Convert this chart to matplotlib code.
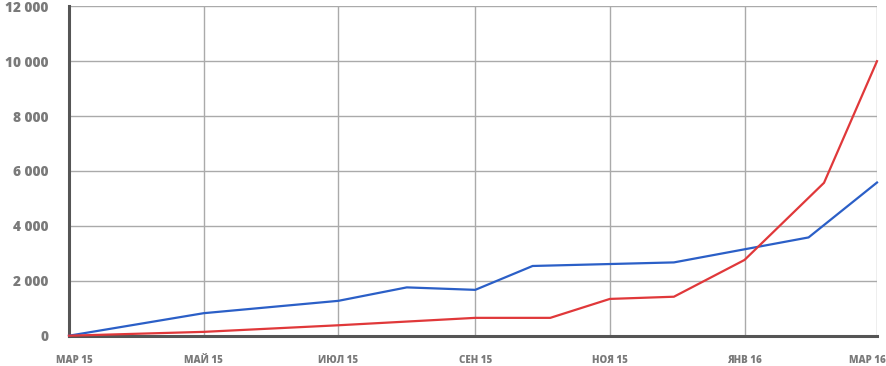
import pandas as pd
import matplotlib
matplotlib.use("Agg")
import matplotlib.pyplot as plt
import matplotlib.transforms as mtransforms

# blue series
blue_dates = ["2015-03-01", "2015-05-01", "2015-07-01", "2015-08-01", "2015-09-01",
              "2015-09-27", "2015-11-30", "2016-01-30", "2016-03-01"]
blue_values = [0, 820, 1270, 1760, 1670, 2540, 2670, 3580, 5580]

# red series
red_dates = ["2015-03-01", "2015-05-01", "2015-07-01", "2015-09-01", "2015-10-05",
             "2015-11-01", "2015-11-30", "2016-01-01", "2016-02-06", "2016-03-01"]
red_values = [0, 140, 380, 650, 650, 1340, 1420, 2760, 5570, 10000]

tick_dates = ["2015-03-01", "2015-05-01", "2015-07-01", "2015-09-01",
              "2015-11-01", "2016-01-01", "2016-03-01"]
tick_labels = ["МАР 15", "МАЙ 15", "ИЮЛ 15", "СЕН 15", "НОЯ 15", "ЯНВ 16", "МАР 16"]
y_ticks = [0, 2000, 4000, 6000, 8000, 10000, 12000]
y_labels = ["0", "2 000", "4 000", "6 000", "8 000", "10 000", "12 000"]

plt.rcParams['font.family'] = ['Open Sans', 'DejaVu Sans']

fig = plt.figure(figsize=(8.87, 3.66), dpi=100)
ax = fig.add_axes([69 / 887, 1 - 335.7 / 366, 808 / 887, (335.7 - 6.3) / 366])

ax.plot(pd.to_datetime(blue_dates), blue_values, color='#2b5fc7', lw=1.6, clip_on=False, zorder=3)
ax.plot(pd.to_datetime(red_dates), red_values, color='#e0383a', lw=1.6, clip_on=False, zorder=3)

ax.set_xlim(pd.Timestamp("2015-03-01"), pd.Timestamp("2016-03-01"))
ax.set_ylim(0, 12000)
ax.set_xticks(pd.to_datetime(tick_dates))
ax.set_xticklabels(tick_labels)
ax.set_yticks(y_ticks)
ax.set_yticklabels(y_labels)

ax.grid(True, color='#aaaaaa', lw=1.0)
ax.set_axisbelow(True)
for side in ['top', 'right']:
    ax.spines[side].set_visible(False)
ax.spines['left'].set_color('#555555')
ax.spines['left'].set_linewidth(2.2)
ax.spines['bottom'].set_color('#555555')
ax.spines['bottom'].set_linewidth(2.2)

ax.tick_params(axis='y', length=0, pad=15, labelsize=9.8, labelcolor='#7a7a7a')
ax.tick_params(axis='x', length=0, pad=14, labelsize=7.0, labelcolor='#7a7a7a')
for lab in ax.get_yticklabels() + ax.get_xticklabels():
    lab.set_fontweight('heavy')
xl = ax.get_xticklabels()
shift_first = mtransforms.ScaledTranslation(5 / 100, 0, fig.dpi_scale_trans)
xl[0].set_transform(xl[0].get_transform() + shift_first)
xl[-1].set_horizontalalignment('right')
shift_last = mtransforms.ScaledTranslation(9 / 100, 0, fig.dpi_scale_trans)
xl[-1].set_transform(xl[-1].get_transform() + shift_last)

fig.savefig("out.png", dpi=100)
